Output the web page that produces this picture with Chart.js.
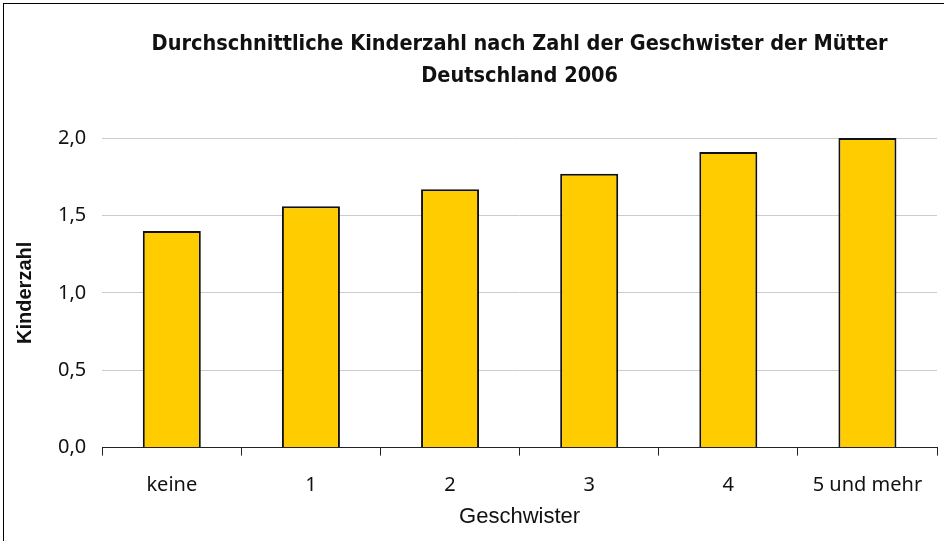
<!DOCTYPE html>
<html>
<head>
<meta charset="utf-8">
<script src="https://cdn.jsdelivr.net/npm/chart.js@4"></script>
<style>
  html, body { margin: 0; padding: 0; background: #fff; }
  #wrap { position: absolute; left: 3px; top: 3px; width: 950px; height: 545px; border: 1px solid #000; box-sizing: border-box; }
  canvas { position: absolute; left: 0; top: 0; }
</style>
</head>
<body>
<div id="wrap"></div>
<canvas id="chart" width="944" height="541"></canvas>
<script>
const categories = ['keine', '1', '2', '3', '4', '5 und mehr'];
const kinderzahl = [1.40, 1.56, 1.67, 1.77, 1.91, 2.00];
const yTicks = [0, 0.5, 1.0, 1.5, 2.0];

const ctx = document.getElementById('chart').getContext('2d');

const chart = new Chart(ctx, {
  type: 'bar',
  data: {
    labels: categories,
    datasets: [{
      label: 'Kinderzahl',
      data: kinderzahl,
      backgroundColor: '#FFCC00',
      borderColor: '#111111',
      borderWidth: 2,
      barPercentage: 0.417,
      categoryPercentage: 1.0
    }]
  },
  options: {
    responsive: false,
    animation: false,
    layout: { padding: { top: 0, right: 7, left: 9, bottom: 7 } },
    plugins: {
      legend: { display: false },
      tooltip: { enabled: false },
      title: {
        display: true,
        fullSize: false,
        text: ['Durchschnittliche Kinderzahl nach Zahl der Geschwister der Mütter', 'Deutschland 2006'],
        color: '#111',
        font: { family: 'DejaVu Sans Condensed', size: 21.5, weight: 'bold', lineHeight: 1.49 },
        padding: { top: 28, bottom: 46 }
      }
    },
    scales: {
      x: {
        offset: true,
        grid: { display: true, drawOnChartArea: false, drawTicks: true, tickLength: 8, color: '#222', offset: true },
        border: { display: true, color: '#222', width: 1 },
        ticks: { color: '#111', font: { family: 'Noto Sans', size: 20 }, padding: 18 },
        title: { display: true, text: 'Geschwister', color: '#111', font: { family: 'Liberation Sans', size: 22 }, padding: { top: -12, bottom: 4 } }
      },
      y: {
        min: 0,
        max: 2,
        afterBuildTicks: (axis) => { axis.ticks = yTicks.map(v => ({ value: v })); },
        grid: { color: '#cccccc', drawTicks: false },
        border: { display: false },
        ticks: {
          color: '#111',
          padding: 16,
          font: { family: 'Noto Sans', size: 20 },
          callback: (v) => v.toFixed(1).replace('.', ',')
        },
        title: { display: true, text: 'Kinderzahl', color: '#111', font: { family: 'Liberation Sans', size: 20, weight: 'bold' }, padding: { top: 4, bottom: 5 } }
      }
    }
  }
});
</script>
</body>
</html>
